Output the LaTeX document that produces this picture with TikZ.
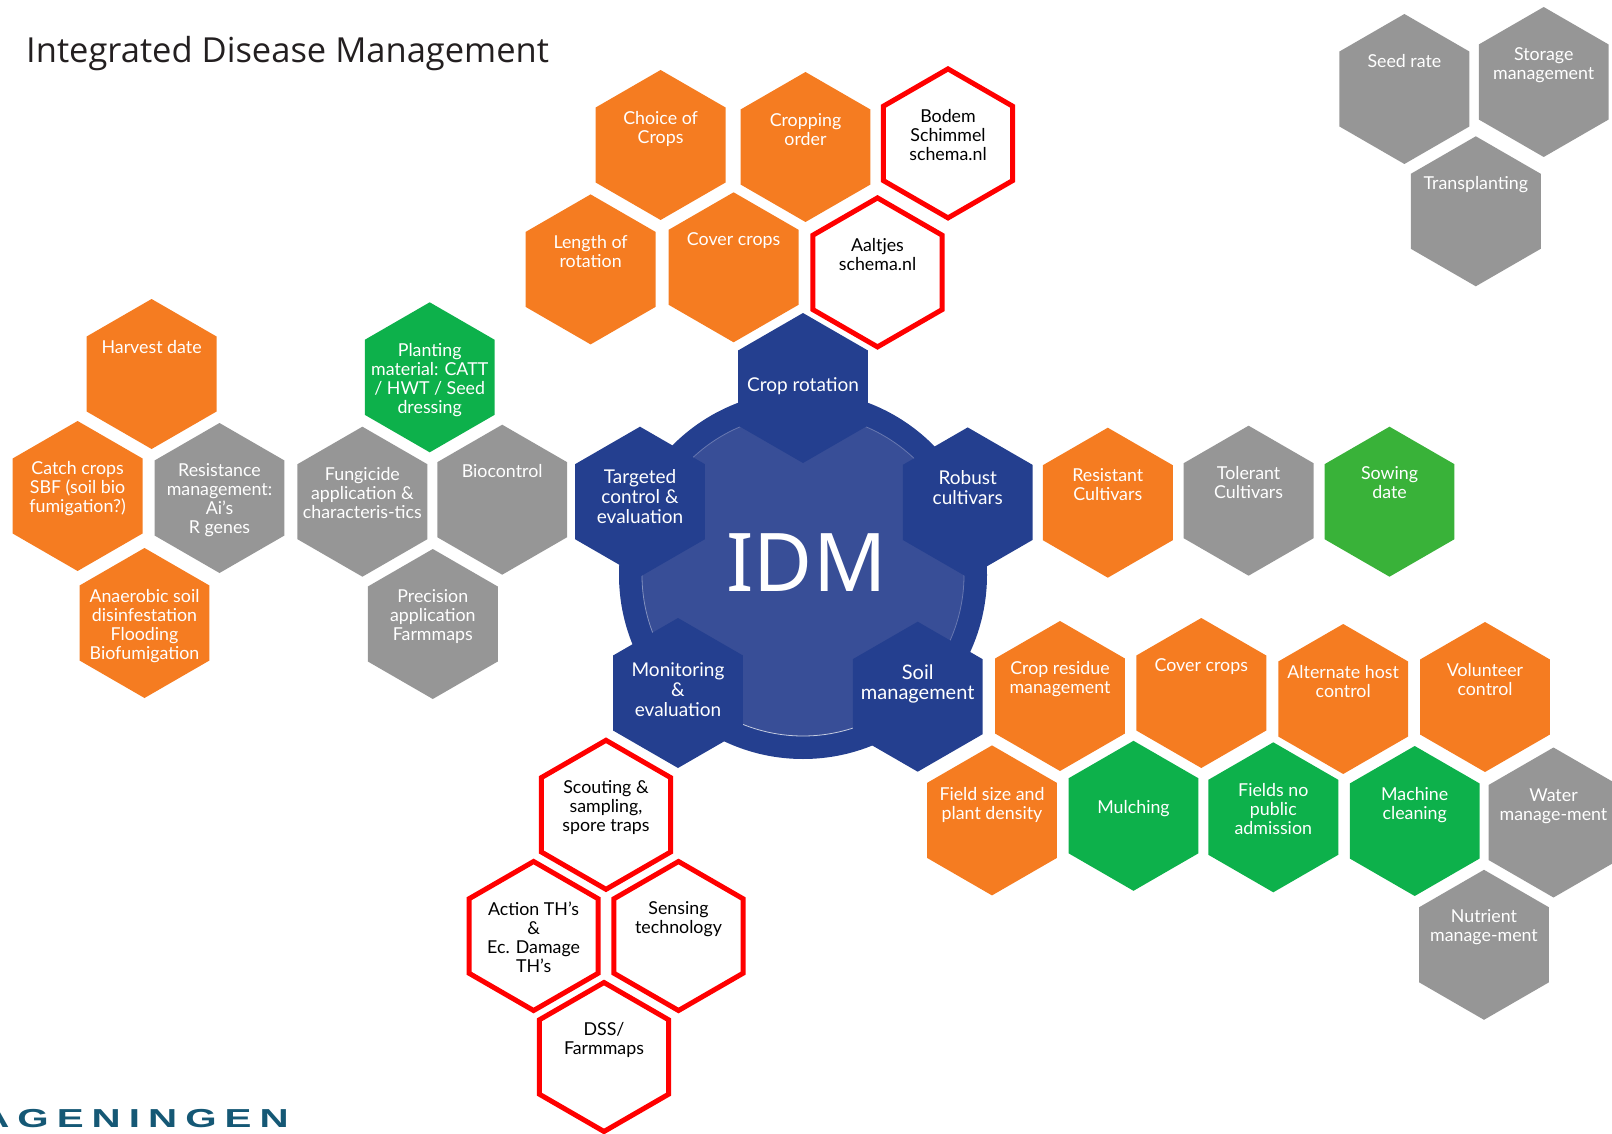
\documentclass[tikz,border=0pt]{standalone}
\usepackage{fontspec}
\setmainfont{Lato}
\newfontfamily\titlefont{Open Sans}
\newfontfamily\idmfont{Noto Sans}
\newfontfamily\wurfont[FakeStretch=1.55,LetterSpace=31]{Liberation Sans Bold}
\usetikzlibrary{shapes.geometric}
\definecolor{hexorange}{HTML}{F57C21}
\definecolor{hexgray}{HTML}{969696}
\definecolor{hexgreen}{HTML}{0DB14B}
\definecolor{hexlime}{HTML}{39B239}
\definecolor{hexnavy}{HTML}{243F8F}
\definecolor{discinner}{HTML}{384E97}
\definecolor{rimfaint}{HTML}{6878B0}
\definecolor{rimmid}{HTML}{8391BE}
\definecolor{rimbright}{HTML}{C5CCE0}
\definecolor{hexred}{HTML}{FF0000}
\definecolor{wurteal}{HTML}{155875}
\definecolor{titleink}{HTML}{231F20}
\tikzset{
  hexbase/.style={regular polygon,regular polygon sides=6,shape border rotate=30,inner sep=0pt,outer sep=0pt,minimum size=150pt,draw=none},
  orangehex/.style={hexbase,fill=hexorange},
  grayhex/.style={hexbase,fill=hexgray},
  greenhex/.style={hexbase,fill=hexgreen},
  limehex/.style={hexbase,fill=hexlime},
  navyhex/.style={hexbase,fill=hexnavy},
  redhex/.style={hexbase,minimum size=149pt,draw=hexred,line width=5pt,fill=white},
  hextext/.style={align=center,inner sep=0pt,text=white,yshift=-1.7pt,font=\fontsize{17.8}{19}\selectfont},
  navytext/.style={hextext,font=\fontsize{20}{20}\selectfont},
  narrownavytext/.style={hextext,font=\fontsize{19}{20}\selectfont},
  redtext/.style={hextext,text=black},
  rimline/.style={line width=0.8pt},
}
\newcommand{\hexn}[7][hextext]{%
  \node[#3] (#2) at (#4,#5) {};
  \node[#1] (#2-t) at (#4,#6) {#7};
}
\begin{document}
\begin{tikzpicture}[x=1pt,y=-1pt]
\clip (0,0) rectangle (1612,1134);
\node[anchor=west,inner sep=0pt,text=titleink,font=\titlefont\fontsize{34.5}{36}\selectfont] (title) at (26,53.5) {Integrated Disease Management};
% central disc
\node[circle,fill=hexnavy,minimum size=368pt,inner sep=0pt] (disc) at (803,575) {};
\node[circle,fill=discinner,minimum size=322pt,inner sep=0pt,outer sep=0pt] (inner) at (803,575) {};
\draw[rimline,rimfaint] (inner.20) arc[start angle=20,end angle=160,radius=161pt];
\draw[rimline,rimmid] (inner.160) arc[start angle=160,end angle=235,radius=161pt];
\draw[rimline,rimbright] (inner.235) arc[start angle=235,end angle=305,radius=161pt];
\draw[rimline,rimfaint] (inner.305) arc[start angle=305,end angle=380,radius=161pt];
\node[inner sep=0pt,text=white,font=\idmfont\fontsize{81}{81}\selectfont] (idm) at (806.5,562.5) {IDM};
% ring hexagons
\hexn[narrownavytext]{croprot}{navyhex}{803}{388}{384.5}{Crop rotation}
\hexn[narrownavytext]{targeted}{navyhex}{640}{501.7}{495.3}{Targeted\\control \&\\evaluation}
\hexn[narrownavytext]{robust}{navyhex}{967.7}{502.4}{486.1}{Robust\\cultivars}
\hexn[narrownavytext]{monitor}{navyhex}{678}{693}{688}{Monitoring\\\&\\evaluation}
\hexn[navytext]{soil}{navyhex}{917.7}{696.7}{682.7}{Soil\\management}
% top group
\hexn{choice}{orangehex}{660.6}{145}{127.5}{Choice of\\Crops}
\hexn{cropping}{orangehex}{805.5}{147}{127.7}{Cropping\\order}
\hexn[redtext]{bodem}{redhex}{948}{143.4}{133}{Bodem\\Schimmel\\schema.nl}
\hexn{length}{orangehex}{590.6}{269.4}{249.7}{Length of\\rotation}
\hexn{covertop}{orangehex}{733.6}{267.3}{238.5}{Cover crops}
\hexn[redtext]{aaltjes}{redhex}{877.5}{272.4}{252.8}{Aaltjes\\schema.nl}
% left groups
\hexn{harvest}{orangehex}{151.6}{374}{345.2}{Harvest date}
\hexn{planting}{greenhex}{429.7}{377.3}{378.5}{Planting\\material: CATT\\/ HWT / Seed\\dressing}
\hexn{catch}{orangehex}{77.6}{496}{487.3}{Catch crops\\SBF (soil bio\\fumigation?)}
\hexn{resistance}{grayhex}{219.5}{498}{498.6}{Resistance\\management:\\Ai’s\\R genes}
\hexn{fungicide}{grayhex}{362.4}{501.7}{491.5}{Fungicide\\application \&\\characteris-tics}
\hexn{biocontrol}{grayhex}{502.2}{499.7}{469.5}{Biocontrol}
\hexn{anaerobic}{orangehex}{144.5}{623}{624}{Anaerobic soil\\disinfestation\\Flooding\\Biofumigation}
\hexn{precision}{grayhex}{432.8}{624}{615}{Precision\\application\\Farmmaps}
% right row
\hexn{resistant}{orangehex}{1107.8}{502.7}{483}{Resistant\\Cultivars}
\hexn{tolerant}{grayhex}{1248.6}{500.7}{481}{Tolerant\\Cultivars}
\hexn{sowing}{limehex}{1389.5}{501.7}{481}{Sowing\\date}
% soil group
\hexn{residue}{orangehex}{1060}{696}{677.5}{Crop residue\\management}
\hexn{coversoil}{orangehex}{1201.3}{693}{665}{Cover crops}
\hexn{alternate}{orangehex}{1343.2}{699}{679.4}{Alternate host\\control}
\hexn{volunteer}{orangehex}{1485}{697}{678}{Volunteer\\control}
\hexn{fieldsize}{orangehex}{992}{820.4}{803}{Field size and\\plant density}
\hexn{mulching}{greenhex}{1133.5}{815.8}{807}{Mulching}
\hexn{fieldsno}{greenhex}{1273.3}{817.3}{807.8}{Fields no\\public\\admission}
\hexn{machine}{greenhex}{1414.7}{821}{803.5}{Machine\\cleaning}
\hexn{water}{grayhex}{1553.5}{822.5}{804.5}{Water\\manage-ment}
\hexn{nutrient}{grayhex}{1484}{944.8}{925.8}{Nutrient\\manage-ment}
% top right
\hexn{seedrate}{grayhex}{1404.4}{89}{59}{Seed rate}
\hexn{storage}{grayhex}{1543.7}{82}{63}{Storage\\management}
\hexn{transplant}{grayhex}{1475.8}{211.3}{183}{Transplanting}
% monitoring group
\hexn[redtext]{scouting}{redhex}{606}{814.8}{806}{Scouting \&\\sampling,\\spore traps}
\hexn[redtext]{action}{redhex}{533.6}{936}{935.9}{Action TH’s\\\&\\Ec. Damage\\TH’s}
\hexn[redtext]{sensing}{redhex}{678.5}{936}{917.4}{Sensing\\technology}
\hexn[redtext]{dss}{redhex}{604}{1057}{1038.4}{DSS/\\Farmmaps}
% logo
\node[anchor=base east,inner sep=0pt,text=wurteal,font=\wurfont\fontsize{26}{26}\selectfont] (wur) at (289,1127) {AGENINGEN};
\end{tikzpicture}
\end{document}
